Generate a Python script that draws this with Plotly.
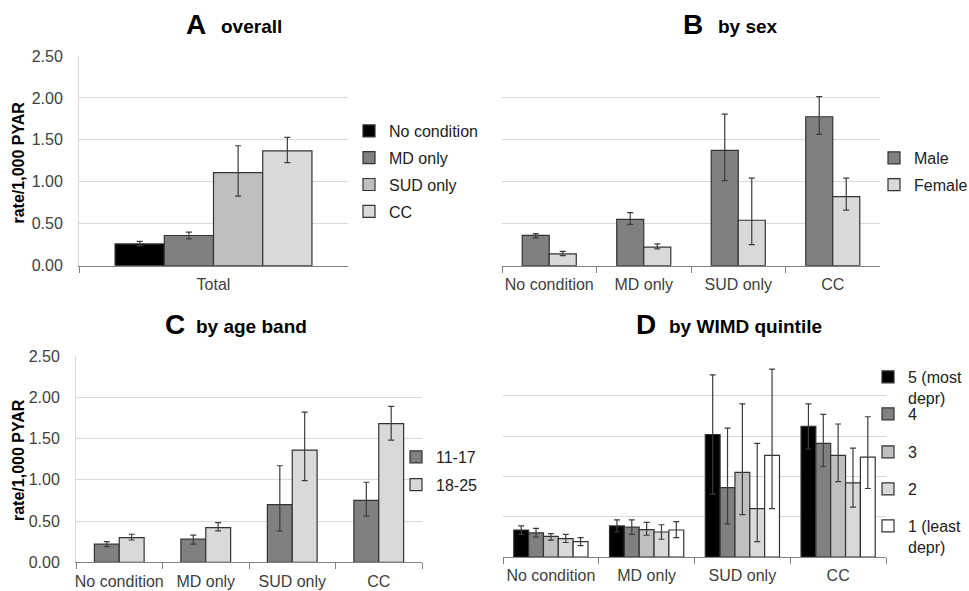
import plotly.graph_objects as go

W, H = 969, 591

# ---------------- data ----------------
cat_total = ["Total"]
cats = ["No condition", "MD only", "SUD only", "CC"]

# Panel A: overall
a_series = ["No condition", "MD only", "SUD only", "CC"]
a_value = [0.26, 0.36, 1.11, 1.37]
a_upper = [0.29, 0.40, 1.43, 1.53]
a_lower = [0.24, 0.32, 0.83, 1.23]

# Panel B: by sex
b_male = [0.36, 0.55, 1.37, 1.77]
b_male_up = [0.38, 0.63, 1.80, 2.01]
b_male_lo = [0.33, 0.49, 1.01, 1.56]
b_female = [0.14, 0.22, 0.54, 0.82]
b_female_up = [0.17, 0.26, 1.04, 1.04]
b_female_lo = [0.12, 0.20, 0.25, 0.66]

# Panel C: by age band
c_1117 = [0.22, 0.28, 0.70, 0.75]
c_1117_up = [0.25, 0.33, 1.17, 0.97]
c_1117_lo = [0.19, 0.22, 0.38, 0.56]
c_1825 = [0.30, 0.42, 1.36, 1.68]
c_1825_up = [0.34, 0.48, 1.82, 1.89]
c_1825_lo = [0.27, 0.38, 0.99, 1.48]

# Panel D: by WIMD quintile
d_q5 = [0.335, 0.385, 1.52, 1.62]
d_q5_up = [0.385, 0.46, 2.26, 1.90]
d_q5_lo = [0.28, 0.31, 0.78, 1.34]
d_q4 = [0.30, 0.37, 0.86, 1.41]
d_q4_up = [0.355, 0.46, 1.60, 1.77]
d_q4_lo = [0.25, 0.28, 0.41, 1.12]
d_q3 = [0.256, 0.34, 1.05, 1.26]
d_q3_up = [0.29, 0.43, 1.90, 1.65]
d_q3_lo = [0.21, 0.27, 0.525, 0.935]
d_q2 = [0.227, 0.31, 0.60, 0.92]
d_q2_up = [0.28, 0.40, 1.41, 1.35]
d_q2_lo = [0.18, 0.22, 0.19, 0.62]
d_q1 = [0.19, 0.335, 1.26, 1.24]
d_q1_up = [0.24, 0.44, 2.33, 1.74]
d_q1_lo = [0.14, 0.24, 0.60, 0.85]

y_ticks = [0.0, 0.5, 1.0, 1.5, 2.0, 2.5]

# ---------------- style ----------------
FONT = "Liberation Sans, Arial, sans-serif"
C_BLACK, C_DARK, C_MID, C_LIGHT, C_WHITE = "#000000", "#808080", "#bfbfbf", "#d9d9d9", "#ffffff"
EDGE = "#333333"
ERR = "#3c3c3c"
TICKC = "#404040"
GRID = "#d9d9d9"


def px_x(p):
    return p / W


def px_y(p):
    return 1 - p / H


fig = go.Figure()


def add_bar(name, x, v, up, lo, color, xa, ya, legend, width, offset, group):
    fig.add_trace(go.Bar(
        name=name, x=x, y=v, xaxis=xa, yaxis=ya, legend=legend,
        legendgroup=group,
        width=width, offset=offset,
        marker=dict(color=color, line=dict(color=EDGE, width=1.2)),
        error_y=dict(type="data", symmetric=False,
                     array=[u - a for u, a in zip(up, v)],
                     arrayminus=[a - l for a, l in zip(v, lo)],
                     color=ERR, thickness=1.2, width=3),
        hoverinfo="skip",
    ))


# Panel A
a_colors = [C_BLACK, C_DARK, C_MID, C_LIGHT]
wA = 0.183
for i, (nm, col) in enumerate(zip(a_series, a_colors)):
    add_bar(nm, cat_total, [a_value[i]], [a_upper[i]], [a_lower[i]], col,
            "x", "y", "legend", wA, -2 * wA + i * wA, "a%d" % i)

# Panel B
wB = 0.286
add_bar("Male", cats, b_male, b_male_up, b_male_lo, C_DARK, "x2", "y2", "legend2", wB, -wB, "b0")
add_bar("Female", cats, b_female, b_female_up, b_female_lo, C_LIGHT, "x2", "y2", "legend2", wB, 0, "b1")

# Panel C
wC = 0.2875
add_bar("11-17", cats, c_1117, c_1117_up, c_1117_lo, C_DARK, "x3", "y3", "legend3", wC, -wC, "c0")
add_bar("18-25", cats, c_1825, c_1825_up, c_1825_lo, C_LIGHT, "x3", "y3", "legend3", wC, 0, "c1")

# Panel D (each entry in its own legend box so the spacing matches)
wD = 0.155
d_names = ["5 (most<br>depr)", "4", "3", "2", "1 (least<br>depr)"]
d_vals = [d_q5, d_q4, d_q3, d_q2, d_q1]
d_ups = [d_q5_up, d_q4_up, d_q3_up, d_q2_up, d_q1_up]
d_los = [d_q5_lo, d_q4_lo, d_q3_lo, d_q2_lo, d_q1_lo]
d_colors = [C_BLACK, C_DARK, C_MID, C_LIGHT, C_WHITE]
for i in range(5):
    add_bar(d_names[i], cats, d_vals[i], d_ups[i], d_los[i], d_colors[i],
            "x4", "y4", "legend%d" % (4 + i), wD, -2.5 * wD + i * wD, "d%d" % i)

# ---------------- axes ----------------
def xaxis(dom):
    return dict(domain=[px_x(dom[0]), px_x(dom[1])], type="category",
                showline=True, linecolor="#808080", linewidth=1,
                ticks="outside", ticklen=6, tickcolor="#808080", tickwidth=1,
                tickson="boundaries", showgrid=False, tickangle=0,
                ticklabelstandoff=4, automargin=False,
                tickfont=dict(family=FONT, size=16, color=TICKC),
                fixedrange=True)


def yaxis(dom, anchor, labels):
    d = dict(domain=[px_y(dom[1]), px_y(dom[0])], anchor=anchor,
             range=[0, 2.5], tickvals=y_ticks, tickformat=".2f",
             showgrid=True, gridcolor=GRID, gridwidth=1, automargin=False,
             zeroline=False, ticks="", showticklabels=labels,
             ticklabelstandoff=12,
             tickfont=dict(family=FONT, size=16, color=TICKC),
             fixedrange=True)
    if labels:
        d.update(showline=True, linecolor=GRID, linewidth=1)
    else:
        d.update(showline=False)
    return d


A_x, A_y = (79, 348), (56, 265.7)
B_x, B_y = (502, 880), (55.3, 265.7)
C_x, C_y = (76, 422), (356, 562.3)
D_x, D_y = (503, 886), (355.5, 557)

layout = dict(
    width=W, height=H, margin=dict(l=0, r=0, t=0, b=0, autoexpand=False),
    paper_bgcolor="white", plot_bgcolor="white",
    barmode="overlay",
    font=dict(family=FONT, size=16, color=TICKC),
    xaxis=dict(xaxis(A_x), anchor="y"),
    yaxis=yaxis(A_y, "x", True),
    xaxis2=dict(xaxis(B_x), anchor="y2"),
    yaxis2=yaxis(B_y, "x2", False),
    xaxis3=dict(xaxis(C_x), anchor="y3"),
    yaxis3=yaxis(C_y, "x3", True),
    xaxis4=dict(xaxis(D_x), anchor="y4"),
    yaxis4=yaxis(D_y, "x4", False),
)


def legend(xp, yp, gap):
    return dict(x=px_x(xp), y=px_y(yp), xanchor="left", yanchor="top",
                xref="container", yref="container",
                font=dict(family=FONT, size=16, color="#222222"),
                bgcolor="rgba(0,0,0,0)", borderwidth=0,
                tracegroupgap=gap, traceorder="grouped", valign="top",
                itemclick=False, itemdoubleclick=False)


layout["legend"] = legend(349, 114, 3)
layout["legend2"] = legend(874, 141, 3)
layout["legend3"] = legend(396, 440, 4)
d_legend_tops = [360, 397, 435, 472, 509]
for i, top in enumerate(d_legend_tops):
    layout["legend%d" % (4 + i)] = legend(868, top, 0)

fig.update_layout(**layout)

# ---------------- titles / annotations ----------------
titles = [("A", "overall", 208, 219, 24),
          ("B", "by sex", 705, 716, 24),
          ("C", "by age band", 187, 194, 324),
          ("D", "by WIMD quintile", 658, 667, 324)]
for letter, word, lx, wx, cy in titles:
    fig.add_annotation(text="<b>%s</b>" % letter, x=px_x(lx), y=px_y(cy),
                       xref="paper", yref="paper", xanchor="right", yanchor="middle",
                       showarrow=False, font=dict(family=FONT, size=28, color="#000000"))
    fig.add_annotation(text="<b>%s</b>" % word, x=px_x(wx), y=px_y(cy + 2),
                       xref="paper", yref="paper", xanchor="left", yanchor="middle",
                       showarrow=False, font=dict(family=FONT, size=19, color="#000000"))

for cy in (162.5, 460):
    fig.add_annotation(text="<b>rate/1,000 PYAR</b>", x=px_x(18), y=px_y(cy),
                       xref="paper", yref="paper", xanchor="center", yanchor="middle",
                       textangle=-90, showarrow=False,
                       font=dict(family=FONT, size=16, color="#000000"))

fig.write_html("out.html", config={"displayModeBar": False},
               post_script="document.body.style.margin='0px';")
